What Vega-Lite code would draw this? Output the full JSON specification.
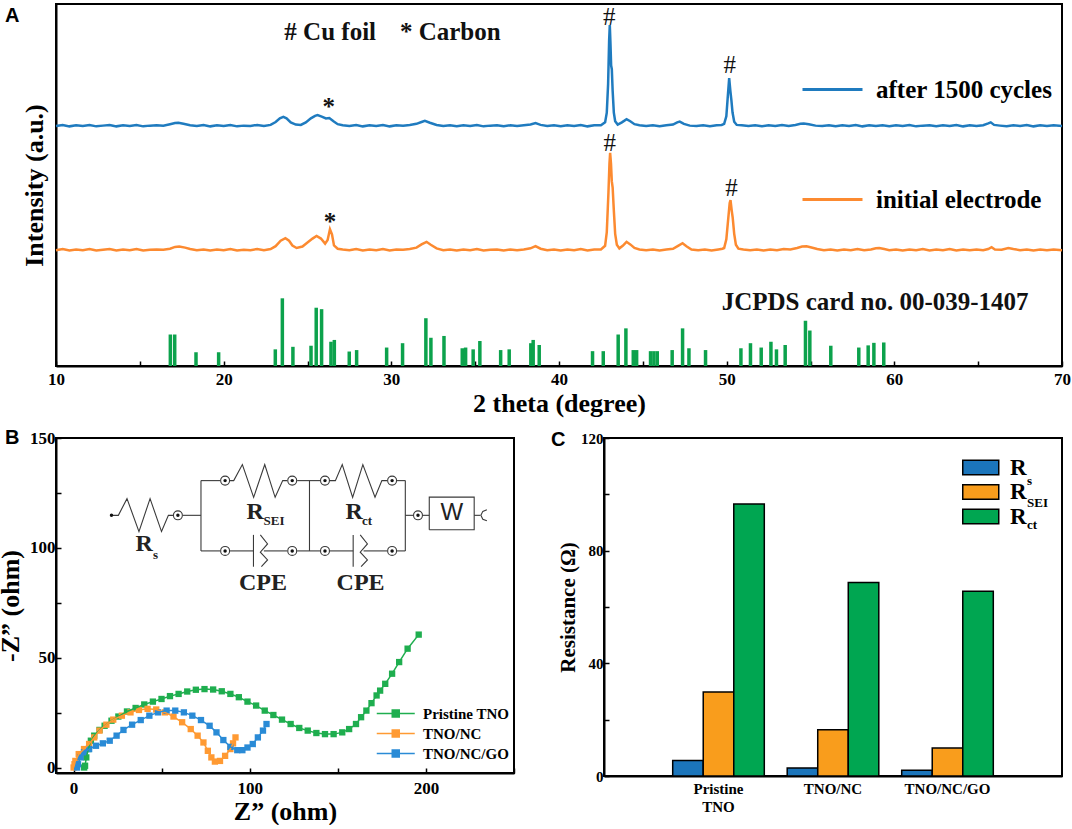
{
"$schema":"https://vega.github.io/schema/vega-lite/v6.json",
"background":"white",
"padding":{"left":-4,"top":3,"right":0,"bottom":0},
"bounds":"flush",
"spacing":72,
"resolve":{"scale":{"x":"independent","y":"independent","color":"independent","fill":"independent","shape":"independent"}},
"config":{
"view":{"stroke":"black","strokeWidth":2},
"axis":{"grid":false,"domainColor":"black","domainWidth":2,"tickColor":"black","tickWidth":1.5,"labelColor":"black","titleColor":"black","labelFont":"Liberation Serif","titleFont":"Liberation Serif","labelFontWeight":"bold","titleFontWeight":"bold"},
"legend":{"labelFont":"Liberation Serif","labelFontWeight":"bold","labelColor":"black","padding":0}
},
"datasets":{
"xrd":[
{"pattern":"after 1500 cycles","two_theta":10,"intensity":66.3},{"pattern":"after 1500 cycles","two_theta":10.4,"intensity":66.6},{"pattern":"after 1500 cycles","two_theta":10.8,"intensity":66.2},{"pattern":"after 1500 cycles","two_theta":11.2,"intensity":66.5},{"pattern":"after 1500 cycles","two_theta":11.6,"intensity":66.3},{"pattern":"after 1500 cycles","two_theta":12.0,"intensity":66.6},{"pattern":"after 1500 cycles","two_theta":12.4,"intensity":66.2},{"pattern":"after 1500 cycles","two_theta":12.8,"intensity":66.4},{"pattern":"after 1500 cycles","two_theta":13.2,"intensity":66.6},{"pattern":"after 1500 cycles","two_theta":13.6,"intensity":66.2},{"pattern":"after 1500 cycles","two_theta":14.0,"intensity":66.5},{"pattern":"after 1500 cycles","two_theta":14.4,"intensity":66.3},{"pattern":"after 1500 cycles","two_theta":14.8,"intensity":66.6},{"pattern":"after 1500 cycles","two_theta":15.2,"intensity":66.2},{"pattern":"after 1500 cycles","two_theta":15.6,"intensity":66.4},{"pattern":"after 1500 cycles","two_theta":16.0,"intensity":66.5},{"pattern":"after 1500 cycles","two_theta":16.4,"intensity":66.4},{"pattern":"after 1500 cycles","two_theta":16.8,"intensity":66.8},{"pattern":"after 1500 cycles","two_theta":17.1,"intensity":67.1},{"pattern":"after 1500 cycles","two_theta":17.3,"intensity":67.2},{"pattern":"after 1500 cycles","two_theta":17.6,"intensity":66.9},{"pattern":"after 1500 cycles","two_theta":18.0,"intensity":66.5},{"pattern":"after 1500 cycles","two_theta":18.4,"intensity":66.3},{"pattern":"after 1500 cycles","two_theta":18.8,"intensity":66.6},{"pattern":"after 1500 cycles","two_theta":19.2,"intensity":66.2},{"pattern":"after 1500 cycles","two_theta":19.6,"intensity":66.5},{"pattern":"after 1500 cycles","two_theta":20.0,"intensity":66.3},{"pattern":"after 1500 cycles","two_theta":20.4,"intensity":66.6},{"pattern":"after 1500 cycles","two_theta":20.8,"intensity":66.2},{"pattern":"after 1500 cycles","two_theta":21.2,"intensity":66.4},{"pattern":"after 1500 cycles","two_theta":21.6,"intensity":66.3},{"pattern":"after 1500 cycles","two_theta":22.0,"intensity":66.6},{"pattern":"after 1500 cycles","two_theta":22.4,"intensity":66.3},{"pattern":"after 1500 cycles","two_theta":22.8,"intensity":66.6},{"pattern":"after 1500 cycles","two_theta":23.1,"intensity":67.4},{"pattern":"after 1500 cycles","two_theta":23.35,"intensity":68.4},{"pattern":"after 1500 cycles","two_theta":23.56,"intensity":68.8},{"pattern":"after 1500 cycles","two_theta":23.75,"intensity":68.4},{"pattern":"after 1500 cycles","two_theta":24.0,"intensity":67.3},{"pattern":"after 1500 cycles","two_theta":24.3,"intensity":66.7},{"pattern":"after 1500 cycles","two_theta":24.6,"intensity":66.6},{"pattern":"after 1500 cycles","two_theta":24.9,"intensity":67.3},{"pattern":"after 1500 cycles","two_theta":25.2,"intensity":68.4},{"pattern":"after 1500 cycles","two_theta":25.45,"intensity":69.1},{"pattern":"after 1500 cycles","two_theta":25.6,"intensity":69.3},{"pattern":"after 1500 cycles","two_theta":25.85,"intensity":68.9},{"pattern":"after 1500 cycles","two_theta":26.1,"intensity":68.4},{"pattern":"after 1500 cycles","two_theta":26.3,"intensity":68.5},{"pattern":"after 1500 cycles","two_theta":26.55,"intensity":67.6},{"pattern":"after 1500 cycles","two_theta":26.8,"intensity":66.8},{"pattern":"after 1500 cycles","two_theta":27.1,"intensity":66.5},{"pattern":"after 1500 cycles","two_theta":27.5,"intensity":66.3},{"pattern":"after 1500 cycles","two_theta":27.9,"intensity":66.6},{"pattern":"after 1500 cycles","two_theta":28.3,"intensity":66.2},{"pattern":"after 1500 cycles","two_theta":28.7,"intensity":66.5},{"pattern":"after 1500 cycles","two_theta":29.1,"intensity":66.3},{"pattern":"after 1500 cycles","two_theta":29.5,"intensity":66.6},{"pattern":"after 1500 cycles","two_theta":29.9,"intensity":66.2},{"pattern":"after 1500 cycles","two_theta":30.3,"intensity":66.5},{"pattern":"after 1500 cycles","two_theta":30.7,"intensity":66.4},{"pattern":"after 1500 cycles","two_theta":31.1,"intensity":66.6},{"pattern":"after 1500 cycles","two_theta":31.5,"intensity":66.9},{"pattern":"after 1500 cycles","two_theta":31.8,"intensity":67.4},{"pattern":"after 1500 cycles","two_theta":32.0,"intensity":67.7},{"pattern":"after 1500 cycles","two_theta":32.3,"intensity":67.2},{"pattern":"after 1500 cycles","two_theta":32.7,"intensity":66.6},{"pattern":"after 1500 cycles","two_theta":33.1,"intensity":66.3},{"pattern":"after 1500 cycles","two_theta":33.5,"intensity":66.5},{"pattern":"after 1500 cycles","two_theta":33.9,"intensity":66.2},{"pattern":"after 1500 cycles","two_theta":34.3,"intensity":66.5},{"pattern":"after 1500 cycles","two_theta":34.7,"intensity":66.3},{"pattern":"after 1500 cycles","two_theta":35.1,"intensity":66.6},{"pattern":"after 1500 cycles","two_theta":35.5,"intensity":66.2},{"pattern":"after 1500 cycles","two_theta":35.9,"intensity":66.4},{"pattern":"after 1500 cycles","two_theta":36.3,"intensity":66.5},{"pattern":"after 1500 cycles","two_theta":36.7,"intensity":66.2},{"pattern":"after 1500 cycles","two_theta":37.1,"intensity":66.5},{"pattern":"after 1500 cycles","two_theta":37.5,"intensity":66.3},{"pattern":"after 1500 cycles","two_theta":37.9,"intensity":66.5},{"pattern":"after 1500 cycles","two_theta":38.3,"intensity":66.7},{"pattern":"after 1500 cycles","two_theta":38.6,"intensity":67.1},{"pattern":"after 1500 cycles","two_theta":38.9,"intensity":66.6},{"pattern":"after 1500 cycles","two_theta":39.3,"intensity":66.3},{"pattern":"after 1500 cycles","two_theta":39.7,"intensity":66.5},{"pattern":"after 1500 cycles","two_theta":40.1,"intensity":66.2},{"pattern":"after 1500 cycles","two_theta":40.5,"intensity":66.5},{"pattern":"after 1500 cycles","two_theta":40.9,"intensity":66.3},{"pattern":"after 1500 cycles","two_theta":41.3,"intensity":66.6},{"pattern":"after 1500 cycles","two_theta":41.7,"intensity":66.2},{"pattern":"after 1500 cycles","two_theta":42.1,"intensity":66.5},{"pattern":"after 1500 cycles","two_theta":42.5,"intensity":66.5},{"pattern":"after 1500 cycles","two_theta":42.75,"intensity":67.3},{"pattern":"after 1500 cycles","two_theta":42.85,"intensity":70},{"pattern":"after 1500 cycles","two_theta":42.93,"intensity":78},{"pattern":"after 1500 cycles","two_theta":42.99,"intensity":90},{"pattern":"after 1500 cycles","two_theta":43.03,"intensity":94.2},{"pattern":"after 1500 cycles","two_theta":43.07,"intensity":89},{"pattern":"after 1500 cycles","two_theta":43.11,"intensity":83},{"pattern":"after 1500 cycles","two_theta":43.15,"intensity":82},{"pattern":"after 1500 cycles","two_theta":43.2,"intensity":76},{"pattern":"after 1500 cycles","two_theta":43.27,"intensity":70},{"pattern":"after 1500 cycles","two_theta":43.35,"intensity":67.6},{"pattern":"after 1500 cycles","two_theta":43.5,"intensity":66.7},{"pattern":"after 1500 cycles","two_theta":43.75,"intensity":67.3},{"pattern":"after 1500 cycles","two_theta":44.03,"intensity":68.2},{"pattern":"after 1500 cycles","two_theta":44.25,"intensity":67.6},{"pattern":"after 1500 cycles","two_theta":44.5,"intensity":66.8},{"pattern":"after 1500 cycles","two_theta":44.8,"intensity":66.5},{"pattern":"after 1500 cycles","two_theta":45.2,"intensity":66.3},{"pattern":"after 1500 cycles","two_theta":45.6,"intensity":66.5},{"pattern":"after 1500 cycles","two_theta":46.0,"intensity":66.2},{"pattern":"after 1500 cycles","two_theta":46.4,"intensity":66.5},{"pattern":"after 1500 cycles","two_theta":46.8,"intensity":66.7},{"pattern":"after 1500 cycles","two_theta":47.05,"intensity":67.3},{"pattern":"after 1500 cycles","two_theta":47.2,"intensity":67.5},{"pattern":"after 1500 cycles","two_theta":47.45,"intensity":66.9},{"pattern":"after 1500 cycles","two_theta":47.8,"intensity":66.4},{"pattern":"after 1500 cycles","two_theta":48.2,"intensity":66.3},{"pattern":"after 1500 cycles","two_theta":48.6,"intensity":66.5},{"pattern":"after 1500 cycles","two_theta":49.0,"intensity":66.2},{"pattern":"after 1500 cycles","two_theta":49.4,"intensity":66.5},{"pattern":"after 1500 cycles","two_theta":49.7,"intensity":66.6},{"pattern":"after 1500 cycles","two_theta":49.85,"intensity":66.9},{"pattern":"after 1500 cycles","two_theta":49.98,"intensity":69},{"pattern":"after 1500 cycles","two_theta":50.06,"intensity":74},{"pattern":"after 1500 cycles","two_theta":50.15,"intensity":79.5},{"pattern":"after 1500 cycles","two_theta":50.22,"intensity":76},{"pattern":"after 1500 cycles","two_theta":50.28,"intensity":73.5},{"pattern":"after 1500 cycles","two_theta":50.35,"intensity":70},{"pattern":"after 1500 cycles","two_theta":50.45,"intensity":67.5},{"pattern":"after 1500 cycles","two_theta":50.6,"intensity":66.6},{"pattern":"after 1500 cycles","two_theta":50.9,"intensity":66.5},{"pattern":"after 1500 cycles","two_theta":51.3,"intensity":66.3},{"pattern":"after 1500 cycles","two_theta":51.7,"intensity":66.5},{"pattern":"after 1500 cycles","two_theta":52.1,"intensity":66.2},{"pattern":"after 1500 cycles","two_theta":52.5,"intensity":66.5},{"pattern":"after 1500 cycles","two_theta":52.9,"intensity":66.3},{"pattern":"after 1500 cycles","two_theta":53.3,"intensity":66.6},{"pattern":"after 1500 cycles","two_theta":53.7,"intensity":66.3},{"pattern":"after 1500 cycles","two_theta":54.1,"intensity":66.6},{"pattern":"after 1500 cycles","two_theta":54.4,"intensity":66.9},{"pattern":"after 1500 cycles","two_theta":54.6,"intensity":67.0},{"pattern":"after 1500 cycles","two_theta":54.9,"intensity":66.8},{"pattern":"after 1500 cycles","two_theta":55.3,"intensity":66.4},{"pattern":"after 1500 cycles","two_theta":55.7,"intensity":66.3},{"pattern":"after 1500 cycles","two_theta":56.1,"intensity":66.5},{"pattern":"after 1500 cycles","two_theta":56.5,"intensity":66.2},{"pattern":"after 1500 cycles","two_theta":56.9,"intensity":66.5},{"pattern":"after 1500 cycles","two_theta":57.3,"intensity":66.3},{"pattern":"after 1500 cycles","two_theta":57.7,"intensity":66.6},{"pattern":"after 1500 cycles","two_theta":58.1,"intensity":66.2},{"pattern":"after 1500 cycles","two_theta":58.5,"intensity":66.5},{"pattern":"after 1500 cycles","two_theta":58.9,"intensity":66.3},{"pattern":"after 1500 cycles","two_theta":59.3,"intensity":66.5},{"pattern":"after 1500 cycles","two_theta":59.7,"intensity":66.2},{"pattern":"after 1500 cycles","two_theta":60.1,"intensity":66.5},{"pattern":"after 1500 cycles","two_theta":60.5,"intensity":66.3},{"pattern":"after 1500 cycles","two_theta":60.9,"intensity":66.6},{"pattern":"after 1500 cycles","two_theta":61.3,"intensity":66.2},{"pattern":"after 1500 cycles","two_theta":61.7,"intensity":66.4},{"pattern":"after 1500 cycles","two_theta":62.1,"intensity":66.5},{"pattern":"after 1500 cycles","two_theta":62.5,"intensity":66.2},{"pattern":"after 1500 cycles","two_theta":62.9,"intensity":66.5},{"pattern":"after 1500 cycles","two_theta":63.3,"intensity":66.3},{"pattern":"after 1500 cycles","two_theta":63.7,"intensity":66.6},{"pattern":"after 1500 cycles","two_theta":64.1,"intensity":66.2},{"pattern":"after 1500 cycles","two_theta":64.5,"intensity":66.5},{"pattern":"after 1500 cycles","two_theta":64.9,"intensity":66.3},{"pattern":"after 1500 cycles","two_theta":65.3,"intensity":66.5},{"pattern":"after 1500 cycles","two_theta":65.6,"intensity":67.0},{"pattern":"after 1500 cycles","two_theta":65.75,"intensity":67.3},{"pattern":"after 1500 cycles","two_theta":65.95,"intensity":66.6},{"pattern":"after 1500 cycles","two_theta":66.3,"intensity":66.4},{"pattern":"after 1500 cycles","two_theta":66.7,"intensity":66.2},{"pattern":"after 1500 cycles","two_theta":67.1,"intensity":66.5},{"pattern":"after 1500 cycles","two_theta":67.5,"intensity":66.3},{"pattern":"after 1500 cycles","two_theta":67.9,"intensity":66.6},{"pattern":"after 1500 cycles","two_theta":68.3,"intensity":66.2},{"pattern":"after 1500 cycles","two_theta":68.7,"intensity":66.5},{"pattern":"after 1500 cycles","two_theta":69.1,"intensity":66.3},{"pattern":"after 1500 cycles","two_theta":69.5,"intensity":66.5},{"pattern":"after 1500 cycles","two_theta":70,"intensity":66.3},
{"pattern":"initial electrode","two_theta":10,"intensity":32.0},{"pattern":"initial electrode","two_theta":10.4,"intensity":32.3},{"pattern":"initial electrode","two_theta":10.8,"intensity":31.9},{"pattern":"initial electrode","two_theta":11.2,"intensity":32.2},{"pattern":"initial electrode","two_theta":11.6,"intensity":32.0},{"pattern":"initial electrode","two_theta":12.0,"intensity":32.3},{"pattern":"initial electrode","two_theta":12.4,"intensity":31.9},{"pattern":"initial electrode","two_theta":12.8,"intensity":32.1},{"pattern":"initial electrode","two_theta":13.2,"intensity":32.3},{"pattern":"initial electrode","two_theta":13.6,"intensity":31.9},{"pattern":"initial electrode","two_theta":14.0,"intensity":32.2},{"pattern":"initial electrode","two_theta":14.4,"intensity":32.0},{"pattern":"initial electrode","two_theta":14.8,"intensity":32.3},{"pattern":"initial electrode","two_theta":15.2,"intensity":31.9},{"pattern":"initial electrode","two_theta":15.6,"intensity":32.1},{"pattern":"initial electrode","two_theta":16.0,"intensity":32.2},{"pattern":"initial electrode","two_theta":16.4,"intensity":32.1},{"pattern":"initial electrode","two_theta":16.8,"intensity":32.4},{"pattern":"initial electrode","two_theta":17.1,"intensity":32.9},{"pattern":"initial electrode","two_theta":17.35,"intensity":33.0},{"pattern":"initial electrode","two_theta":17.7,"intensity":32.7},{"pattern":"initial electrode","two_theta":18.0,"intensity":32.3},{"pattern":"initial electrode","two_theta":18.4,"intensity":32.0},{"pattern":"initial electrode","two_theta":18.8,"intensity":32.2},{"pattern":"initial electrode","two_theta":19.2,"intensity":31.9},{"pattern":"initial electrode","two_theta":19.6,"intensity":32.2},{"pattern":"initial electrode","two_theta":20.0,"intensity":32.0},{"pattern":"initial electrode","two_theta":20.4,"intensity":32.3},{"pattern":"initial electrode","two_theta":20.8,"intensity":31.9},{"pattern":"initial electrode","two_theta":21.2,"intensity":32.1},{"pattern":"initial electrode","two_theta":21.6,"intensity":32.0},{"pattern":"initial electrode","two_theta":22.0,"intensity":32.3},{"pattern":"initial electrode","two_theta":22.4,"intensity":32.0},{"pattern":"initial electrode","two_theta":22.8,"intensity":32.3},{"pattern":"initial electrode","two_theta":23.1,"intensity":33.1},{"pattern":"initial electrode","two_theta":23.4,"intensity":34.6},{"pattern":"initial electrode","two_theta":23.68,"intensity":35.3},{"pattern":"initial electrode","two_theta":23.9,"intensity":34.6},{"pattern":"initial electrode","two_theta":24.1,"intensity":33.3},{"pattern":"initial electrode","two_theta":24.35,"intensity":32.6},{"pattern":"initial electrode","two_theta":24.7,"intensity":33.0},{"pattern":"initial electrode","two_theta":25.0,"intensity":34.1},{"pattern":"initial electrode","two_theta":25.3,"intensity":35.2},{"pattern":"initial electrode","two_theta":25.54,"intensity":35.9},{"pattern":"initial electrode","two_theta":25.8,"intensity":35.2},{"pattern":"initial electrode","two_theta":26.05,"intensity":33.8},{"pattern":"initial electrode","two_theta":26.2,"intensity":34.8},{"pattern":"initial electrode","two_theta":26.34,"intensity":37.8},{"pattern":"initial electrode","two_theta":26.46,"intensity":36.4},{"pattern":"initial electrode","two_theta":26.58,"intensity":33.3},{"pattern":"initial electrode","two_theta":26.8,"intensity":32.4},{"pattern":"initial electrode","two_theta":27.1,"intensity":32.2},{"pattern":"initial electrode","two_theta":27.5,"intensity":32.0},{"pattern":"initial electrode","two_theta":27.9,"intensity":32.3},{"pattern":"initial electrode","two_theta":28.3,"intensity":31.9},{"pattern":"initial electrode","two_theta":28.7,"intensity":32.2},{"pattern":"initial electrode","two_theta":29.1,"intensity":32.0},{"pattern":"initial electrode","two_theta":29.5,"intensity":32.3},{"pattern":"initial electrode","two_theta":29.9,"intensity":31.9},{"pattern":"initial electrode","two_theta":30.3,"intensity":32.2},{"pattern":"initial electrode","two_theta":30.7,"intensity":32.1},{"pattern":"initial electrode","two_theta":31.1,"intensity":32.3},{"pattern":"initial electrode","two_theta":31.5,"intensity":32.7},{"pattern":"initial electrode","two_theta":31.8,"intensity":33.6},{"pattern":"initial electrode","two_theta":32.1,"intensity":34.3},{"pattern":"initial electrode","two_theta":32.35,"intensity":33.5},{"pattern":"initial electrode","two_theta":32.7,"intensity":32.5},{"pattern":"initial electrode","two_theta":33.1,"intensity":32.0},{"pattern":"initial electrode","two_theta":33.5,"intensity":32.2},{"pattern":"initial electrode","two_theta":33.9,"intensity":31.9},{"pattern":"initial electrode","two_theta":34.3,"intensity":32.2},{"pattern":"initial electrode","two_theta":34.7,"intensity":32.0},{"pattern":"initial electrode","two_theta":35.1,"intensity":32.3},{"pattern":"initial electrode","two_theta":35.5,"intensity":31.9},{"pattern":"initial electrode","two_theta":35.9,"intensity":32.1},{"pattern":"initial electrode","two_theta":36.3,"intensity":32.2},{"pattern":"initial electrode","two_theta":36.7,"intensity":31.9},{"pattern":"initial electrode","two_theta":37.1,"intensity":32.2},{"pattern":"initial electrode","two_theta":37.5,"intensity":32.0},{"pattern":"initial electrode","two_theta":37.9,"intensity":32.2},{"pattern":"initial electrode","two_theta":38.3,"intensity":32.5},{"pattern":"initial electrode","two_theta":38.6,"intensity":33.1},{"pattern":"initial electrode","two_theta":38.9,"intensity":32.4},{"pattern":"initial electrode","two_theta":39.3,"intensity":32.0},{"pattern":"initial electrode","two_theta":39.7,"intensity":32.2},{"pattern":"initial electrode","two_theta":40.1,"intensity":31.9},{"pattern":"initial electrode","two_theta":40.5,"intensity":32.2},{"pattern":"initial electrode","two_theta":40.9,"intensity":32.0},{"pattern":"initial electrode","two_theta":41.3,"intensity":32.3},{"pattern":"initial electrode","two_theta":41.7,"intensity":31.9},{"pattern":"initial electrode","two_theta":42.1,"intensity":32.2},{"pattern":"initial electrode","two_theta":42.5,"intensity":32.2},{"pattern":"initial electrode","two_theta":42.75,"intensity":33.2},{"pattern":"initial electrode","two_theta":42.85,"intensity":37},{"pattern":"initial electrode","two_theta":42.95,"intensity":48},{"pattern":"initial electrode","two_theta":43.01,"intensity":56},{"pattern":"initial electrode","two_theta":43.05,"intensity":58.9},{"pattern":"initial electrode","two_theta":43.1,"intensity":56},{"pattern":"initial electrode","two_theta":43.15,"intensity":51},{"pattern":"initial electrode","two_theta":43.2,"intensity":49.3},{"pattern":"initial electrode","two_theta":43.27,"intensity":43},{"pattern":"initial electrode","two_theta":43.35,"intensity":36.5},{"pattern":"initial electrode","two_theta":43.45,"intensity":33.5},{"pattern":"initial electrode","two_theta":43.6,"intensity":32.5},{"pattern":"initial electrode","two_theta":43.8,"intensity":33.2},{"pattern":"initial electrode","two_theta":44.03,"intensity":34.3},{"pattern":"initial electrode","two_theta":44.25,"intensity":33.6},{"pattern":"initial electrode","two_theta":44.5,"intensity":32.6},{"pattern":"initial electrode","two_theta":44.8,"intensity":32.2},{"pattern":"initial electrode","two_theta":45.2,"intensity":32.0},{"pattern":"initial electrode","two_theta":45.6,"intensity":32.2},{"pattern":"initial electrode","two_theta":46.0,"intensity":31.9},{"pattern":"initial electrode","two_theta":46.4,"intensity":32.2},{"pattern":"initial electrode","two_theta":46.8,"intensity":32.4},{"pattern":"initial electrode","two_theta":47.1,"intensity":33.2},{"pattern":"initial electrode","two_theta":47.37,"intensity":33.9},{"pattern":"initial electrode","two_theta":47.6,"intensity":33.1},{"pattern":"initial electrode","two_theta":47.9,"intensity":32.2},{"pattern":"initial electrode","two_theta":48.3,"intensity":32.0},{"pattern":"initial electrode","two_theta":48.7,"intensity":32.2},{"pattern":"initial electrode","two_theta":49.1,"intensity":31.9},{"pattern":"initial electrode","two_theta":49.5,"intensity":32.2},{"pattern":"initial electrode","two_theta":49.75,"intensity":32.4},{"pattern":"initial electrode","two_theta":49.85,"intensity":32.6},{"pattern":"initial electrode","two_theta":49.98,"intensity":35},{"pattern":"initial electrode","two_theta":50.08,"intensity":40},{"pattern":"initial electrode","two_theta":50.18,"intensity":45},{"pattern":"initial electrode","two_theta":50.23,"intensity":45.8},{"pattern":"initial electrode","two_theta":50.3,"intensity":43},{"pattern":"initial electrode","two_theta":50.36,"intensity":41},{"pattern":"initial electrode","two_theta":50.45,"intensity":36.5},{"pattern":"initial electrode","two_theta":50.55,"intensity":33.5},{"pattern":"initial electrode","two_theta":50.7,"intensity":32.4},{"pattern":"initial electrode","two_theta":51.0,"intensity":32.2},{"pattern":"initial electrode","two_theta":51.4,"intensity":32.0},{"pattern":"initial electrode","two_theta":51.8,"intensity":32.2},{"pattern":"initial electrode","two_theta":52.2,"intensity":31.9},{"pattern":"initial electrode","two_theta":52.6,"intensity":32.2},{"pattern":"initial electrode","two_theta":53.0,"intensity":32.0},{"pattern":"initial electrode","two_theta":53.4,"intensity":32.3},{"pattern":"initial electrode","two_theta":53.8,"intensity":32.2},{"pattern":"initial electrode","two_theta":54.2,"intensity":32.6},{"pattern":"initial electrode","two_theta":54.5,"intensity":33.0},{"pattern":"initial electrode","two_theta":54.76,"intensity":33.1},{"pattern":"initial electrode","two_theta":55.0,"intensity":32.8},{"pattern":"initial electrode","two_theta":55.4,"intensity":32.3},{"pattern":"initial electrode","two_theta":55.8,"intensity":32.0},{"pattern":"initial electrode","two_theta":56.2,"intensity":32.2},{"pattern":"initial electrode","two_theta":56.6,"intensity":31.9},{"pattern":"initial electrode","two_theta":57.0,"intensity":32.2},{"pattern":"initial electrode","two_theta":57.4,"intensity":32.0},{"pattern":"initial electrode","two_theta":57.8,"intensity":32.3},{"pattern":"initial electrode","two_theta":58.2,"intensity":32.0},{"pattern":"initial electrode","two_theta":58.6,"intensity":32.2},{"pattern":"initial electrode","two_theta":58.9,"intensity":32.5},{"pattern":"initial electrode","two_theta":59.1,"intensity":32.6},{"pattern":"initial electrode","two_theta":59.4,"intensity":32.3},{"pattern":"initial electrode","two_theta":59.7,"intensity":32.0},{"pattern":"initial electrode","two_theta":60.1,"intensity":32.2},{"pattern":"initial electrode","two_theta":60.5,"intensity":31.9},{"pattern":"initial electrode","two_theta":60.9,"intensity":32.2},{"pattern":"initial electrode","two_theta":61.3,"intensity":32.0},{"pattern":"initial electrode","two_theta":61.7,"intensity":32.3},{"pattern":"initial electrode","two_theta":62.1,"intensity":31.9},{"pattern":"initial electrode","two_theta":62.5,"intensity":32.2},{"pattern":"initial electrode","two_theta":62.9,"intensity":32.0},{"pattern":"initial electrode","two_theta":63.3,"intensity":32.3},{"pattern":"initial electrode","two_theta":63.7,"intensity":31.9},{"pattern":"initial electrode","two_theta":64.1,"intensity":32.2},{"pattern":"initial electrode","two_theta":64.5,"intensity":32.0},{"pattern":"initial electrode","two_theta":64.9,"intensity":32.2},{"pattern":"initial electrode","two_theta":65.3,"intensity":32.0},{"pattern":"initial electrode","two_theta":65.6,"intensity":32.3},{"pattern":"initial electrode","two_theta":65.8,"intensity":32.8},{"pattern":"initial electrode","two_theta":66.0,"intensity":32.2},{"pattern":"initial electrode","two_theta":66.4,"intensity":32.1},{"pattern":"initial electrode","two_theta":66.8,"intensity":32.6},{"pattern":"initial electrode","two_theta":67.1,"intensity":32.3},{"pattern":"initial electrode","two_theta":67.5,"intensity":32.0},{"pattern":"initial electrode","two_theta":67.9,"intensity":32.2},{"pattern":"initial electrode","two_theta":68.3,"intensity":31.9},{"pattern":"initial electrode","two_theta":68.7,"intensity":32.2},{"pattern":"initial electrode","two_theta":69.1,"intensity":32.0},{"pattern":"initial electrode","two_theta":69.5,"intensity":32.2},{"pattern":"initial electrode","two_theta":70,"intensity":32.0}
],
"sticks":[
{"two_theta":16.82,"intensity":8.7},{"two_theta":17.08,"intensity":8.7},{"two_theta":18.35,"intensity":3.8},{"two_theta":19.70,"intensity":3.8},{"two_theta":23.08,"intensity":4.6},{"two_theta":23.50,"intensity":18.7},{"two_theta":24.13,"intensity":5.3},{"two_theta":25.21,"intensity":5.6},{"two_theta":25.52,"intensity":16.1},{"two_theta":25.84,"intensity":15.7},{"two_theta":26.40,"intensity":6.7},{"two_theta":26.60,"intensity":7.2},{"two_theta":27.49,"intensity":4.0},{"two_theta":27.93,"intensity":4.4},{"two_theta":29.72,"intensity":5.1},{"two_theta":30.67,"intensity":6.3},{"two_theta":32.06,"intensity":13.2},{"two_theta":32.36,"intensity":7.8},{"two_theta":33.14,"intensity":8.3},{"two_theta":34.23,"intensity":4.9},{"two_theta":34.43,"intensity":5.1},{"two_theta":34.88,"intensity":4.6},{"two_theta":35.28,"intensity":6.9},{"two_theta":36.52,"intensity":4.4},{"two_theta":37.03,"intensity":4.6},{"two_theta":38.32,"intensity":6.3},{"two_theta":38.46,"intensity":7.2},{"two_theta":38.82,"intensity":5.8},{"two_theta":42.00,"intensity":4.1},{"two_theta":42.64,"intensity":4.1},{"two_theta":43.53,"intensity":8.7},{"two_theta":43.99,"intensity":10.4},{"two_theta":44.43,"intensity":4.4},{"two_theta":44.63,"intensity":4.4},{"two_theta":45.46,"intensity":4.1},{"two_theta":45.66,"intensity":4.1},{"two_theta":45.86,"intensity":4.1},{"two_theta":46.75,"intensity":4.4},{"two_theta":47.37,"intensity":10.4},{"two_theta":47.75,"intensity":4.9},{"two_theta":48.74,"intensity":4.4},{"two_theta":50.85,"intensity":4.9},{"two_theta":51.42,"intensity":6.3},{"two_theta":52.06,"intensity":5.1},{"two_theta":52.64,"intensity":6.7},{"two_theta":52.97,"intensity":4.6},{"two_theta":53.49,"intensity":5.8},{"two_theta":54.70,"intensity":12.5},{"two_theta":54.96,"intensity":9.8},{"two_theta":56.21,"intensity":5.6},{"two_theta":57.88,"intensity":5.1},{"two_theta":58.44,"intensity":5.7},{"two_theta":58.78,"intensity":6.4},{"two_theta":59.37,"intensity":6.5}
],
"xrd_notes":[
{"two_theta":23.62,"intensity":90.0,"label":"# Cu foil","kind":"header"},
{"two_theta":30.51,"intensity":90.0,"label":"* Carbon","kind":"header"},
{"two_theta":49.7,"intensity":15.5,"label":"JCPDS card no. 00-039-1407","kind":"header"},
{"two_theta":42.99,"intensity":94.3,"label":"#","kind":"hash"},
{"two_theta":43.03,"intensity":59.4,"label":"#","kind":"hash"},
{"two_theta":50.19,"intensity":81.0,"label":"#","kind":"hash"},
{"two_theta":50.29,"intensity":47.0,"label":"#","kind":"hash"},
{"two_theta":26.26,"intensity":69.4,"label":"*","kind":"star"},
{"two_theta":26.34,"intensity":37.7,"label":"*","kind":"star"},
{"two_theta":6.96,"intensity":95.1,"label":"A","kind":"panel"}
],
"eis":[
{"sample":"Pristine TNO","x":6.0,"y":0.0},{"sample":"Pristine TNO","x":6.5,"y":0.8},{"sample":"Pristine TNO","x":7.2,"y":4.6},{"sample":"Pristine TNO","x":8.4,"y":8.4},{"sample":"Pristine TNO","x":9.8,"y":12.2},{"sample":"Pristine TNO","x":11.7,"y":14.5},{"sample":"Pristine TNO","x":14.7,"y":17.1},{"sample":"Pristine TNO","x":17.6,"y":19.0},{"sample":"Pristine TNO","x":21.5,"y":21.3},{"sample":"Pristine TNO","x":25.4,"y":23.2},{"sample":"Pristine TNO","x":30.3,"y":25.5},{"sample":"Pristine TNO","x":35.2,"y":27.1},{"sample":"Pristine TNO","x":40.1,"y":28.7},{"sample":"Pristine TNO","x":45.0,"y":30.0},{"sample":"Pristine TNO","x":49.9,"y":31.2},{"sample":"Pristine TNO","x":54.7,"y":32.5},{"sample":"Pristine TNO","x":59.6,"y":33.5},{"sample":"Pristine TNO","x":64.5,"y":34.6},{"sample":"Pristine TNO","x":69.4,"y":35.4},{"sample":"Pristine TNO","x":74.3,"y":35.7},{"sample":"Pristine TNO","x":79.2,"y":35.5},{"sample":"Pristine TNO","x":84.1,"y":34.7},{"sample":"Pristine TNO","x":89.0,"y":33.5},{"sample":"Pristine TNO","x":93.8,"y":32.0},{"sample":"Pristine TNO","x":98.7,"y":30.0},{"sample":"Pristine TNO","x":103.6,"y":28.2},{"sample":"Pristine TNO","x":108.5,"y":25.9},{"sample":"Pristine TNO","x":113.4,"y":23.9},{"sample":"Pristine TNO","x":118.3,"y":21.8},{"sample":"Pristine TNO","x":123.2,"y":19.8},{"sample":"Pristine TNO","x":128.1,"y":18.0},{"sample":"Pristine TNO","x":132.9,"y":16.8},{"sample":"Pristine TNO","x":137.8,"y":15.7},{"sample":"Pristine TNO","x":142.7,"y":15.2},{"sample":"Pristine TNO","x":147.6,"y":15.2},{"sample":"Pristine TNO","x":152.5,"y":16.0},{"sample":"Pristine TNO","x":156.4,"y":17.5},{"sample":"Pristine TNO","x":160.3,"y":19.8},{"sample":"Pristine TNO","x":163.2,"y":22.9},{"sample":"Pristine TNO","x":166.2,"y":25.9},{"sample":"Pristine TNO","x":169.1,"y":29.3},{"sample":"Pristine TNO","x":172.0,"y":32.8},{"sample":"Pristine TNO","x":174.0,"y":35.0},{"sample":"Pristine TNO","x":176.9,"y":38.1},{"sample":"Pristine TNO","x":180.8,"y":42.7},{"sample":"Pristine TNO","x":184.8,"y":48.0},{"sample":"Pristine TNO","x":189.6,"y":54.1},{"sample":"Pristine TNO","x":195.9,"y":60.5},
{"sample":"TNO/NC","x":0.0,"y":0.0},{"sample":"TNO/NC","x":0.5,"y":1.5},{"sample":"TNO/NC","x":1.0,"y":3.0},{"sample":"TNO/NC","x":2.9,"y":6.1},{"sample":"TNO/NC","x":5.9,"y":8.4},{"sample":"TNO/NC","x":8.8,"y":10.7},{"sample":"TNO/NC","x":11.7,"y":13.7},{"sample":"TNO/NC","x":14.7,"y":16.8},{"sample":"TNO/NC","x":18.6,"y":19.5},{"sample":"TNO/NC","x":22.5,"y":21.8},{"sample":"TNO/NC","x":27.4,"y":23.6},{"sample":"TNO/NC","x":32.3,"y":25.1},{"sample":"TNO/NC","x":37.1,"y":26.2},{"sample":"TNO/NC","x":42.0,"y":26.7},{"sample":"TNO/NC","x":46.9,"y":26.4},{"sample":"TNO/NC","x":51.8,"y":25.1},{"sample":"TNO/NC","x":56.7,"y":23.2},{"sample":"TNO/NC","x":61.6,"y":20.6},{"sample":"TNO/NC","x":66.5,"y":17.5},{"sample":"TNO/NC","x":70.4,"y":14.5},{"sample":"TNO/NC","x":73.7,"y":11.4},{"sample":"TNO/NC","x":76.2,"y":7.6},{"sample":"TNO/NC","x":78.2,"y":4.6},{"sample":"TNO/NC","x":80.2,"y":2.7},{"sample":"TNO/NC","x":83.1,"y":3.0},{"sample":"TNO/NC","x":86.0,"y":5.3},{"sample":"TNO/NC","x":89.0,"y":8.4},{"sample":"TNO/NC","x":90.5,"y":11.0},{"sample":"TNO/NC","x":91.9,"y":13.7},
{"sample":"TNO/NC/GO","x":2.0,"y":0.0},{"sample":"TNO/NC/GO","x":2.5,"y":1.5},{"sample":"TNO/NC/GO","x":3.9,"y":4.6},{"sample":"TNO/NC/GO","x":5.9,"y":6.9},{"sample":"TNO/NC/GO","x":8.8,"y":8.4},{"sample":"TNO/NC/GO","x":12.7,"y":9.9},{"sample":"TNO/NC/GO","x":16.6,"y":11.0},{"sample":"TNO/NC/GO","x":20.5,"y":12.2},{"sample":"TNO/NC/GO","x":24.4,"y":14.5},{"sample":"TNO/NC/GO","x":28.3,"y":17.1},{"sample":"TNO/NC/GO","x":33.2,"y":19.5},{"sample":"TNO/NC/GO","x":38.1,"y":21.6},{"sample":"TNO/NC/GO","x":43.0,"y":23.6},{"sample":"TNO/NC/GO","x":47.9,"y":25.1},{"sample":"TNO/NC/GO","x":52.8,"y":25.9},{"sample":"TNO/NC/GO","x":57.7,"y":25.9},{"sample":"TNO/NC/GO","x":62.6,"y":25.1},{"sample":"TNO/NC/GO","x":67.4,"y":23.6},{"sample":"TNO/NC/GO","x":72.3,"y":21.6},{"sample":"TNO/NC/GO","x":77.2,"y":19.0},{"sample":"TNO/NC/GO","x":81.1,"y":16.0},{"sample":"TNO/NC/GO","x":85.0,"y":12.5},{"sample":"TNO/NC/GO","x":89.0,"y":9.4},{"sample":"TNO/NC/GO","x":92.9,"y":7.9},{"sample":"TNO/NC/GO","x":95.8,"y":7.9},{"sample":"TNO/NC/GO","x":98.7,"y":9.1},{"sample":"TNO/NC/GO","x":101.7,"y":10.7},{"sample":"TNO/NC/GO","x":104.6,"y":13.7},{"sample":"TNO/NC/GO","x":107.5,"y":16.8},{"sample":"TNO/NC/GO","x":109.5,"y":19.8}
],
"circuit":[
{"seg":"a","i":0,"x":21.5,"y":114.8},{"seg":"a","i":1,"x":25.4,"y":114.8},{"seg":"a","i":2,"x":30.3,"y":122.4},{"seg":"a","i":3,"x":37.1,"y":107.4},{"seg":"a","i":4,"x":43.4,"y":122.4},{"seg":"a","i":5,"x":49.9,"y":107.4},{"seg":"a","i":6,"x":53.8,"y":114.8},{"seg":"a","i":7,"x":56.4,"y":114.8},
{"seg":"b","i":0,"x":62.0,"y":114.8},{"seg":"b","i":1,"x":72.3,"y":114.8},
{"seg":"c","i":0,"x":72.3,"y":130.6},{"seg":"c","i":1,"x":72.3,"y":98.6},
{"seg":"d","i":0,"x":72.3,"y":130.6},{"seg":"d","i":1,"x":83.2,"y":130.6},
{"seg":"e","i":0,"x":88.8,"y":130.6},{"seg":"e","i":1,"x":90.9,"y":130.6},{"seg":"e","i":2,"x":95.8,"y":137.9},{"seg":"e","i":3,"x":102.2,"y":123.0},{"seg":"e","i":4,"x":108.5,"y":137.9},{"seg":"e","i":5,"x":114.4,"y":123.0},{"seg":"e","i":6,"x":118.7,"y":130.6},{"seg":"e","i":7,"x":121.3,"y":130.6},
{"seg":"f","i":0,"x":126.9,"y":130.6},{"seg":"f","i":1,"x":139.9,"y":130.6},
{"seg":"g","i":0,"x":72.3,"y":98.6},{"seg":"g","i":1,"x":83.2,"y":98.6},
{"seg":"h","i":0,"x":88.8,"y":98.6},{"seg":"h","i":1,"x":102.1,"y":98.6},
{"seg":"j","i":0,"x":102.1,"y":105.9},{"seg":"j","i":1,"x":102.1,"y":91.4},
{"seg":"k","i":0,"x":106.0,"y":105.9},{"seg":"k","i":1,"x":110.1,"y":101.8},{"seg":"k","i":2,"x":106.0,"y":98.0},{"seg":"k","i":3,"x":110.1,"y":94.5},{"seg":"k","i":4,"x":106.6,"y":91.4},
{"seg":"l","i":0,"x":108.0,"y":98.6},{"seg":"l","i":1,"x":121.3,"y":98.6},
{"seg":"m","i":0,"x":126.9,"y":98.6},{"seg":"m","i":1,"x":139.9,"y":98.6},
{"seg":"n","i":0,"x":133.9,"y":130.6},{"seg":"n","i":1,"x":133.9,"y":98.6},
{"seg":"o","i":0,"x":145.5,"y":130.6},{"seg":"o","i":1,"x":148.6,"y":130.6},{"seg":"o","i":2,"x":152.5,"y":137.9},{"seg":"o","i":3,"x":158.4,"y":123.0},{"seg":"o","i":4,"x":164.2,"y":137.9},{"seg":"o","i":5,"x":171.1,"y":123.0},{"seg":"o","i":6,"x":175.0,"y":130.6},{"seg":"o","i":7,"x":178.0,"y":130.6},
{"seg":"p","i":0,"x":183.6,"y":130.6},{"seg":"p","i":1,"x":188.3,"y":130.6},
{"seg":"q","i":0,"x":145.5,"y":98.6},{"seg":"q","i":1,"x":158.7,"y":98.6},
{"seg":"r","i":0,"x":158.7,"y":105.9},{"seg":"r","i":1,"x":158.7,"y":91.4},
{"seg":"s","i":0,"x":162.7,"y":105.9},{"seg":"s","i":1,"x":166.8,"y":101.8},{"seg":"s","i":2,"x":162.7,"y":98.0},{"seg":"s","i":3,"x":166.8,"y":94.5},{"seg":"s","i":4,"x":163.2,"y":91.4},
{"seg":"t","i":0,"x":164.6,"y":98.6},{"seg":"t","i":1,"x":178.0,"y":98.6},
{"seg":"u","i":0,"x":183.6,"y":98.6},{"seg":"u","i":1,"x":188.3,"y":98.6},
{"seg":"v","i":0,"x":188.3,"y":130.6},{"seg":"v","i":1,"x":188.3,"y":98.6},
{"seg":"w","i":0,"x":188.3,"y":114.8},{"seg":"w","i":1,"x":192.7,"y":114.8},
{"seg":"x","i":0,"x":198.3,"y":114.8},{"seg":"x","i":1,"x":201.9,"y":114.8},
{"seg":"y","i":0,"x":201.9,"y":108.2},{"seg":"y","i":1,"x":201.9,"y":123.1},{"seg":"y","i":2,"x":227.4,"y":123.1},{"seg":"y","i":3,"x":227.4,"y":108.2},{"seg":"y","i":4,"x":201.9,"y":108.2},
{"seg":"z","i":0,"x":227.4,"y":114.8},{"seg":"z","i":1,"x":230.9,"y":114.8},
{"seg":"arc","i":0,"x":234.6,"y":117.3},{"seg":"arc","i":1,"x":232.3,"y":116.6},{"seg":"arc","i":2,"x":231.2,"y":114.8},{"seg":"arc","i":3,"x":232.3,"y":113.0},{"seg":"arc","i":4,"x":234.6,"y":112.3}
],
"nodes":[
{"x":59.2,"y":114.8,"kind":"node"},{"x":86.0,"y":130.6,"kind":"node"},{"x":124.1,"y":130.6,"kind":"node"},{"x":86.0,"y":98.6,"kind":"node"},{"x":124.1,"y":98.6,"kind":"node"},{"x":142.7,"y":130.6,"kind":"node"},{"x":180.8,"y":130.6,"kind":"node"},{"x":142.7,"y":98.6,"kind":"node"},{"x":180.8,"y":98.6,"kind":"node"},{"x":195.5,"y":114.8,"kind":"node"},{"x":21.5,"y":114.8,"kind":"end"}
],
"circuit_text":[
{"x":40.1,"y":101.8,"label":"R","kind":"main"},{"x":46.5,"y":96.8,"label":"s","kind":"sub"},
{"x":103.0,"y":116.1,"label":"R","kind":"main"},{"x":113.8,"y":112.0,"label":"SEI","kind":"sub"},
{"x":159.3,"y":116.1,"label":"R","kind":"main"},{"x":166.6,"y":112.3,"label":"ct","kind":"sub"},
{"x":107.5,"y":83.8,"label":"CPE","kind":"main"},{"x":162.9,"y":83.8,"label":"CPE","kind":"main"},
{"x":214.7,"y":115.8,"label":"W","kind":"box"},
{"x":-38.9,"y":147.3,"label":"B","kind":"panel"}
],
"resistance":[
{"sample":"Pristine TNO","param":"Rs","sub":"s","value":5.5},{"sample":"Pristine TNO","param":"RSEI","sub":"SEI","value":29.8},{"sample":"Pristine TNO","param":"Rct","sub":"ct","value":96.6},
{"sample":"TNO/NC","param":"Rs","sub":"s","value":2.8},{"sample":"TNO/NC","param":"RSEI","sub":"SEI","value":16.4},{"sample":"TNO/NC","param":"Rct","sub":"ct","value":68.7},
{"sample":"TNO/NC/GO","param":"Rs","sub":"s","value":2.0},{"sample":"TNO/NC/GO","param":"RSEI","sub":"SEI","value":9.9},{"sample":"TNO/NC/GO","param":"Rct","sub":"ct","value":65.6}
],
"panel_c":[{"label":"C","pos":-0.1157,"value":117.1}]
},
"vconcat":[
{
"width":1006,"height":362,
"encoding":{
"x":{"field":"two_theta","type":"quantitative","scale":{"domain":[10,70],"nice":false,"zero":false},"axis":{"title":"2 theta (degree)","values":[10,15,20,25,30,35,40,45,50,55,60,65,70],"labelExpr":"datum.value % 10 === 0 ? datum.label : ''","tickSize":-5,"labelPadding":10,"labelFontSize":17,"titleFontSize":26,"titlePadding":3,"labelOverlap":false,"labelFlush":false}},
"y":{"field":"intensity","type":"quantitative","scale":{"domain":[0,100],"nice":false,"zero":false},"axis":{"title":"Intensity (a.u.)","labels":false,"ticks":false,"titleFontSize":26,"titlePadding":9}}
},
"layer":[
{"data":{"name":"sticks"},"mark":{"type":"rule","color":"#0ca24c","strokeWidth":3.5},"encoding":{"y2":{"datum":0}}},
{"data":{"name":"xrd"},"mark":{"type":"line","strokeWidth":2.5},"encoding":{"color":{"field":"pattern","type":"nominal","scale":{"domain":["after 1500 cycles","initial electrode"],"range":["#1f7bbf","#fc8a30"]},"legend":{"title":null,"orient":"none","legendX":739,"legendY":73,"symbolType":"M-1,0L11,0","symbolSize":100,"symbolStrokeWidth":3,"labelFontSize":25,"labelOffset":56,"rowPadding":84,"labelLimit":0}}}},
{"data":{"name":"xrd_notes"},"transform":[{"filter":"datum.kind === 'header'"}],"mark":{"type":"text","align":"left","baseline":"alphabetic","font":"Liberation Serif","fontSize":25,"fontWeight":"bold","color":"#111"},"encoding":{"text":{"field":"label"}}},
{"data":{"name":"xrd_notes"},"transform":[{"filter":"datum.kind === 'hash'"}],"mark":{"type":"text","align":"center","baseline":"alphabetic","font":"Liberation Serif","fontSize":25,"color":"#111"},"encoding":{"text":{"field":"label"}}},
{"data":{"name":"xrd_notes"},"transform":[{"filter":"datum.kind === 'star'"}],"mark":{"type":"text","align":"center","baseline":"alphabetic","font":"Liberation Serif","fontSize":25,"fontWeight":"bold","color":"#111"},"encoding":{"text":{"field":"label"}}},
{"data":{"name":"xrd_notes"},"transform":[{"filter":"datum.kind === 'panel'"}],"mark":{"type":"text","align":"left","baseline":"alphabetic","font":"Liberation Sans","fontSize":20,"fontWeight":"bold","color":"black"},"encoding":{"text":{"field":"label"}}}
]
},
{
"hconcat":[
{
"width":458,"height":335,
"encoding":{
"x":{"field":"x","type":"quantitative","scale":{"domain":[-10,250],"nice":false,"zero":false},"axis":{"title":"Z” (ohm)","values":[0,50,100,150,200,250],"labelExpr":"datum.value % 100 === 0 ? datum.label : ''","tickSize":-5,"labelPadding":12,"labelFontSize":17,"titleFontSize":26,"titlePadding":2,"labelFlush":false}},
"y":{"field":"y","type":"quantitative","scale":{"domain":[-2.5,150],"nice":false,"zero":false},"axis":{"title":"-Z” (ohm)","values":[0,25,50,75,100,125,150],"labelExpr":"datum.value % 50 === 0 ? datum.label : ''","tickSize":-5,"labelPadding":6,"labelFontSize":17,"titleFontSize":26,"titlePadding":6,"labelFlush":false}}
},
"layer":[
{"data":{"name":"circuit"},"mark":{"type":"line","color":"#3a3a3a","strokeWidth":1.1},"encoding":{"detail":{"field":"seg","type":"nominal"},"order":{"field":"i","type":"quantitative"}}},
{"data":{"name":"nodes"},"transform":[{"filter":"datum.kind === 'node'"}],"mark":{"type":"point","shape":"circle","filled":true,"fill":"white","stroke":"#3a3a3a","strokeWidth":1.1,"size":80,"opacity":1}},
{"data":{"name":"nodes"},"mark":{"type":"point","shape":"circle","filled":true,"color":"#111","size":12,"opacity":1}},
{"data":{"name":"circuit_text"},"transform":[{"filter":"datum.kind === 'main'"}],"mark":{"type":"text","font":"Liberation Serif","fontSize":24,"fontWeight":"bold","color":"#222","align":"center","baseline":"middle"},"encoding":{"text":{"field":"label"}}},
{"data":{"name":"circuit_text"},"transform":[{"filter":"datum.kind === 'sub'"}],"mark":{"type":"text","font":"Liberation Serif","fontSize":13,"fontWeight":"bold","color":"#222","align":"center","baseline":"middle"},"encoding":{"text":{"field":"label"}}},
{"data":{"name":"circuit_text"},"transform":[{"filter":"datum.kind === 'box'"}],"mark":{"type":"text","font":"Liberation Sans","fontSize":24,"color":"#222","align":"center","baseline":"middle"},"encoding":{"text":{"field":"label"}}},
{"data":{"name":"circuit_text"},"transform":[{"filter":"datum.kind === 'panel'"}],"mark":{"type":"text","font":"Liberation Sans","fontSize":20,"fontWeight":"bold","color":"black","align":"left","baseline":"alphabetic"},"encoding":{"text":{"field":"label"}}},
{"data":{"name":"eis"},"encoding":{"color":{"field":"sample","type":"nominal","scale":{"domain":["Pristine TNO","TNO/NC","TNO/NC/GO"],"range":["#1fae4f","#ff9a33","#2a8bd6"]},"legend":{"title":null,"orient":"none","legendX":319,"legendY":268,"symbolType":"M-1.15,0L6.45,0M1.95,-0.7L3.35,-0.7L3.35,0.7L1.95,0.7Z","symbolSize":100,"symbolStrokeWidth":1.5,"labelFontSize":15,"labelOffset":33,"rowPadding":4,"labelLimit":0}}},
"layer":[
{"mark":{"type":"point","shape":"square","filled":true,"size":40,"opacity":1}},
{"mark":{"type":"line","strokeWidth":1.5}}
]}
]
},
{
"width":458,"height":338,
"encoding":{
"y":{"field":"value","type":"quantitative","scale":{"domain":[0,120],"nice":false},"axis":{"title":"Resistance (Ω)","values":[0,20,40,60,80,100,120],"labelExpr":"datum.value % 40 === 0 ? datum.label : ''","tickSize":-5,"labelPadding":6,"labelFontSize":15,"titleFontSize":21,"titlePadding":2,"labelFlush":false}}
},
"layer":[
{"data":{"name":"resistance"},
"encoding":{
"x":{"field":"sample","type":"nominal","sort":null,"scale":{"domain":["Pristine TNO","TNO/NC","TNO/NC/GO"],"paddingInner":0.2,"paddingOuter":0.6},"axis":{"title":null,"ticks":false,"labelAngle":0,"labelFontSize":15,"labelPadding":5,"labelLineHeight":18,"labelExpr":"datum.label === 'Pristine TNO' ? ['Pristine', 'TNO'] : datum.label"}},
"xOffset":{"field":"param","type":"nominal","scale":{"domain":["Rs","RSEI","Rct"],"paddingInner":0,"paddingOuter":0}}
},
"layer":[
{"mark":{"type":"bar","stroke":"black","strokeWidth":1.5},"encoding":{"fill":{"field":"param","type":"nominal","scale":{"domain":["Rs","RSEI","Rct"],"range":["#1b75bb","#f99d1c","#00a651"]},"legend":{"title":null,"orient":"none","legendX":355,"legendY":18,"symbolType":"M-1.107,-1.036L4.036,-1.036L4.036,1.036L-1.107,1.036Z","symbolSize":196,"symbolStrokeColor":"black","symbolStrokeWidth":1.5,"labelFontSize":23,"labelOffset":28,"rowPadding":0.5,"labelExpr":"'R'"}}}},
{"mark":{"type":"point","opacity":0},"encoding":{"shape":{"field":"sub","type":"nominal","scale":{"domain":["s","SEI","ct"],"range":["circle","circle","circle"]},"legend":{"title":null,"orient":"none","legendX":410,"legendY":36,"symbolSize":16,"symbolOpacity":0,"symbolStrokeWidth":0,"labelFontSize":13,"labelOffset":0,"rowPadding":8}}}}
]
},
{"data":{"name":"panel_c"},"mark":{"type":"text","font":"Liberation Sans","fontSize":20,"fontWeight":"bold","color":"black","align":"left","baseline":"alphabetic"},"encoding":{"x":{"field":"pos","type":"quantitative","scale":{"domain":[0,1],"nice":false,"zero":false},"axis":null},"text":{"field":"label"}}}
],
"resolve":{"scale":{"x":"independent"}}
}
],
"spacing":90,
"bounds":"flush",
"resolve":{"scale":{"x":"independent","y":"independent","color":"independent","fill":"independent","shape":"independent"}}
}
]
}
